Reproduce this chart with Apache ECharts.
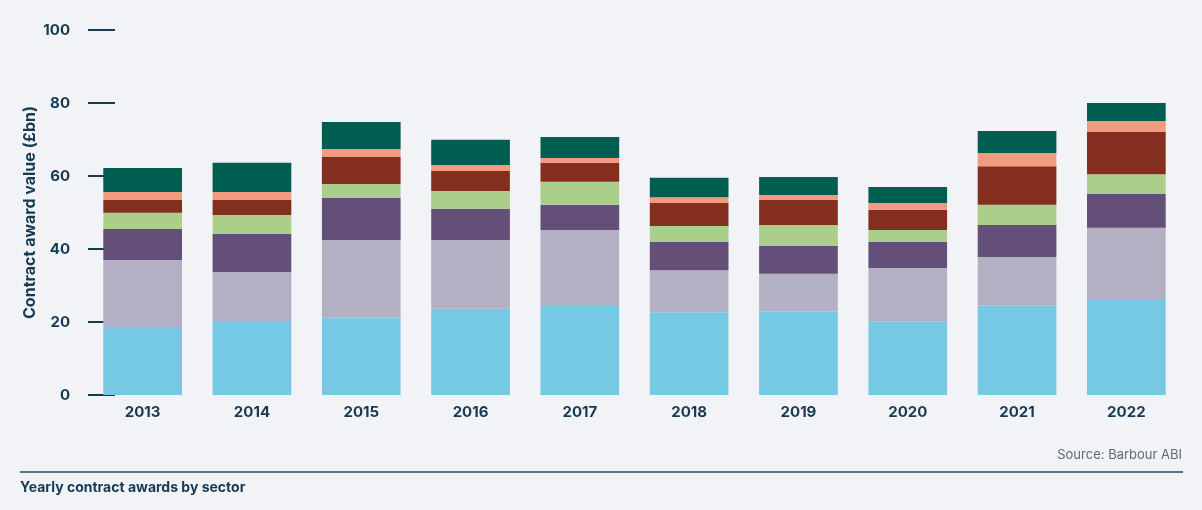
<!DOCTYPE html>
<html>
<head>
<meta charset="utf-8">
<script src="https://cdn.jsdelivr.net/npm/echarts@6/dist/echarts.min.js"></script>
<style>
  html, body { margin: 0; padding: 0; background: #f1f3f7; }
  #chart { width: 1202px; height: 510px; }
</style>
</head>
<body>
<div id="chart"></div>
<script>
const years = ['2013','2014','2015','2016','2017','2018','2019','2020','2021','2022'];
const yTicks = [0, 20, 40, 60, 80, 100];
const sector1 = [18.6, 20.3, 21.2, 23.6, 24.4, 22.7, 22.9, 20.2, 24.5, 26.3];
const sector2 = [18.4, 13.4, 21.3, 18.9, 20.8, 11.5, 10.3, 14.6, 13.3, 19.5];
const sector3 = [8.5, 10.4, 11.5, 8.5, 6.9, 7.7, 7.6, 7.1, 8.8, 9.3];
const sector4 = [4.4, 5.2, 3.8, 4.9, 6.3, 4.4, 5.8, 3.3, 5.5, 5.4];
const sector5 = [3.5, 4.1, 7.4, 5.5, 5.2, 6.3, 6.8, 5.5, 10.6, 11.6];
const sector6 = [2.2, 2.2, 2.2, 1.6, 1.3, 1.6, 1.4, 1.9, 3.6, 3.0];
const sector7 = [6.6, 8.0, 7.4, 6.9, 5.8, 5.3, 4.9, 4.4, 6.0, 4.9];
const seriesNames = ['Sector 1','Sector 2','Sector 3','Sector 4','Sector 5','Sector 6','Sector 7'];
const seriesData = [sector1, sector2, sector3, sector4, sector5, sector6, sector7];
const colors = ['#76c9e5', '#b3b0c4', '#634f78', '#abcf8a', '#842e20', '#f39a7e', '#005e50'];

const navy = '#163a52';
const font = 'Inter, "Open Sans", sans-serif';

const chart = echarts.init(document.getElementById('chart'));
chart.setOption({
  backgroundColor: '#f1f3f7',
  animation: false,
  color: colors,
  grid: { left: 88, right: 21, top: 30, bottom: 115, containLabel: false },
  xAxis: {
    type: 'category',
    data: years,
    axisLine: { show: false },
    axisTick: { show: false },
    axisLabel: { color: navy, fontFamily: font, fontWeight: 'bold', fontSize: 15, margin: 10 }
  },
  yAxis: {
    type: 'value',
    min: yTicks[0],
    max: yTicks[yTicks.length - 1],
    interval: 20,
    name: 'Contract award value (£bn)',
    nameLocation: 'middle',
    nameGap: 50,
    nameMoveOverlap: false,
    nameTextStyle: { color: navy, fontFamily: font, fontWeight: 'bold', fontSize: 16 },
    axisLine: { show: false },
    axisTick: { show: true, inside: true, length: 27, lineStyle: { color: navy, width: 2 } },
    splitLine: { show: false },
    axisLabel: { color: navy, fontFamily: font, fontWeight: 'bold', fontSize: 15, margin: 18 }
  },
  series: seriesData.map((d, i) => ({
    name: seriesNames[i],
    type: 'bar',
    stack: 'total',
    data: d,
    barCategoryGap: '28%',
    itemStyle: { color: colors[i] }
  })),
  graphic: [
    { type: 'line', shape: { x1: 20, y1: 472, x2: 1183, y2: 472 }, style: { stroke: '#55758a', lineWidth: 2 } },
    { type: 'text', right: 20, top: 449, style: { text: 'Source: Barbour ABI', fill: '#5a6c7a', font: '13px ' + font } },
    { type: 'text', left: 20, top: 481, style: { text: 'Yearly contract awards by sector', fill: navy, font: 'bold 14px ' + font } }
  ]
});
</script>
</body>
</html>
